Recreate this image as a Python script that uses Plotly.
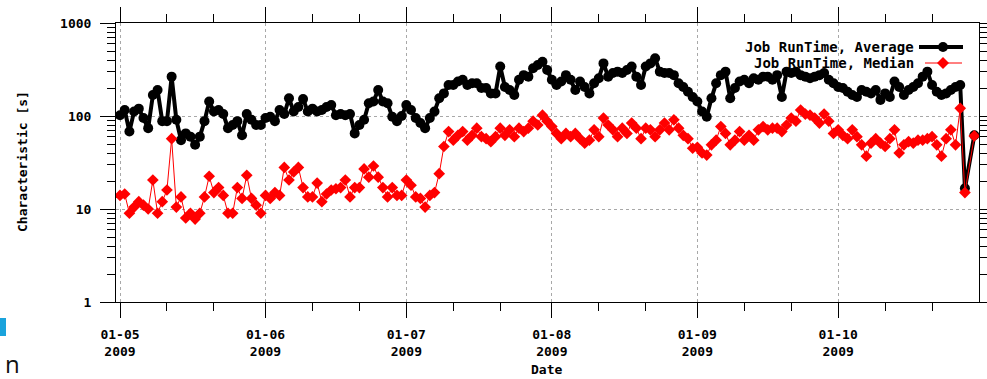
import pandas as pd
import plotly.graph_objects as go

# Daily job run-time characteristics, May-October 2009 (seconds)
dates = pd.date_range("2009-05-01", periods=183, freq="D")

runtime_average = [
    102, 116, 68, 112, 120, 95, 74, 168, 190, 88,
    88, 265, 91, 55, 65, 60, 49, 60, 88, 143,
    112, 116, 105, 74, 80, 88, 62, 105, 91, 80,
    80, 95, 98, 88, 116, 105, 155, 112, 125, 152,
    112, 120, 112, 116, 125, 131, 102, 105, 102, 105,
    65, 80, 91, 137, 143, 190, 143, 137, 98, 88,
    100, 131, 116, 95, 84, 74, 95, 112, 155, 175,
    215, 215, 235, 245, 215, 225, 225, 200, 200, 175,
    175, 340, 205, 190, 168, 245, 275, 265, 326, 353,
    383, 312, 245, 215, 235, 275, 245, 190, 235, 205,
    175, 225, 255, 368, 265, 290, 300, 290, 312, 340,
    265, 215, 340, 368, 417, 300, 290, 290, 275, 225,
    205, 182, 160, 143, 112, 98, 155, 225, 275, 300,
    155, 200, 235, 245, 225, 255, 245, 265, 265, 245,
    275, 160, 300, 290, 300, 275, 265, 255, 265, 275,
    290, 245, 225, 205, 200, 182, 168, 160, 190, 182,
    175, 190, 149, 175, 160, 235, 205, 168, 190, 205,
    225, 265, 300, 215, 182, 168, 175, 190, 205, 215,
    16.7, None, 62,
]

runtime_median = [
    14, 14.5, 9, 10.5, 12, 11, 10, 20.5, 9, 12,
    16, 57, 10.5, 13.5, 8, 9, 7.8, 9, 13.5, 22.5,
    15, 17, 14, 9, 9, 17, 13, 23, 13, 11,
    9, 14, 13, 15, 14, 28, 20.5, 25, 28, 17,
    13.5, 13.5, 19, 12, 14.5, 16, 16.5, 17, 20.5, 13.5,
    17, 17, 27, 22, 29, 22, 17, 13.5, 17, 14,
    14, 20.5, 18, 13.5, 13, 10.5, 14, 15, 24, 47,
    68, 55, 62, 68, 55, 62, 74, 60, 57, 53,
    60, 74, 62, 71, 60, 74, 68, 74, 88, 80,
    102, 88, 77, 65, 57, 65, 60, 65, 57, 51,
    55, 71, 60, 95, 80, 71, 60, 74, 65, 84,
    74, 57, 74, 71, 60, 71, 84, 71, 91, 74,
    62, 57, 45, 46, 40, 38, 49, 55, 77, 65,
    49, 55, 68, 55, 62, 55, 71, 77, 71, 74,
    74, 68, 80, 95, 88, 116, 105, 102, 95, 84,
    105, 88, 65, 71, 62, 57, 71, 60, 49, 37,
    51, 57, 51, 47, 57, 71, 40, 49, 53, 51,
    55, 55, 57, 60, 49, 37, 57, 71, 49, 121,
    15, None, 61,
]

month_ticks = ["2009-05-01", "2009-06-01", "2009-07-01", "2009-08-01",
               "2009-09-01", "2009-10-01"]
month_labels = ["01-05<br>2009", "01-06<br>2009", "01-07<br>2009",
                "01-08<br>2009", "01-09<br>2009", "01-10<br>2009"]
day_ticks = [f"2009-{m:02d}-{d}" for m in range(5, 11) for d in (11, 21)]

y_ticks = [1, 10, 100, 1000]
y_labels = ["1", "10", "100", "1000"]
y_minor = [k * 10 ** e for e in range(3) for k in range(2, 10)]

MONO = "DejaVu Sans Mono"
W, H = 987, 379
L, R, T, B = 116, 8, 23, 77
PW, PH = W - L - R, H - T - B


def px(x):
    return (x - L) / PW


def py(y):
    return (H - B - y) / PH


fig = go.Figure()
fig.add_trace(go.Scatter(
    x=dates, y=runtime_average, mode="lines+markers", connectgaps=True,
    name="Job RunTime, Average",
    line=dict(color="#000000", width=4),
    marker=dict(symbol="circle", size=10, color="#000000"),
))
fig.add_trace(go.Scatter(
    x=dates, y=runtime_median, mode="lines+markers", connectgaps=True,
    name="Job RunTime, Median",
    line=dict(color="#ff0000", width=1),
    marker=dict(symbol="diamond", size=9, color="#ff0000"),
))

axis_common = dict(
    automargin=False,
    showline=True, linecolor="#000000", linewidth=1, mirror="ticks",
    ticks="outside", ticklen=15, tickwidth=1, tickcolor="#000000",
    showgrid=True, gridcolor="#a8a8a8", griddash="dot", gridwidth=1,
    zeroline=False,
    tickfont=dict(family=MONO, size=13, color="#000000", weight="bold"),
)

fig.update_xaxes(
    type="date", range=["2009-04-30 03:30", "2009-10-31 00:00"],
    tickmode="array", tickvals=month_ticks, ticktext=month_labels,
    ticklabelstandoff=5,
    minor=dict(tickmode="array", tickvals=day_ticks, ticks="outside",
               ticklen=8, tickcolor="#000000", showgrid=False),
    **axis_common,
)
fig.update_yaxes(
    type="log", range=[0, 3],
    tickmode="array", tickvals=y_ticks, ticktext=y_labels,
    ticklabelstandoff=6,
    minor=dict(tickmode="array", tickvals=y_minor, ticks="outside",
               ticklen=8, tickcolor="#000000", showgrid=False),
    **axis_common,
)

# key drawn gnuplot-style: label on the left, sample on the right
key_font = dict(family=MONO, size=14, color="#000000", weight="bold")
title_font = dict(family=MONO, size=13, color="#000000", weight="bold")


def note(text, x, y, **kw):
    return dict(text=text, x=px(x), y=py(y), xref="paper", yref="paper",
                showarrow=False, yanchor="middle", **kw)


annotations = [
    note("Job RunTime, Average", 916, 47, xanchor="right", font=key_font),
    note("Job RunTime, Median", 916, 63, xanchor="right", font=key_font),
    note("Characteristic [s]", 22, 162, xanchor="center", textangle=-90,
         font=title_font),
    note("Date", 546, 369, xanchor="center", font=title_font),
    note("n", 3, 363, xanchor="left",
         font=dict(family="Open Sans", size=24, color="#111111")),
]

shapes = [
    dict(type="line", xref="paper", yref="paper", x0=px(919), x1=px(963),
         y0=py(47), y1=py(47), line=dict(color="#000000", width=4)),
    dict(type="circle", xref="paper", yref="paper", xsizemode="pixel",
         ysizemode="pixel", xanchor=px(943), yanchor=py(47),
         x0=-5, x1=5, y0=-5, y1=5, fillcolor="#000000",
         line=dict(width=0)),
    dict(type="line", xref="paper", yref="paper", x0=px(925), x1=px(962),
         y0=py(63), y1=py(63), line=dict(color="#ff0000", width=1)),
    dict(type="path", xref="paper", yref="paper", xsizemode="pixel",
         ysizemode="pixel", xanchor=px(943), yanchor=py(63),
         path="M 0 -6 L 6 0 L 0 6 L -6 0 Z", fillcolor="#ff0000",
         line=dict(width=0)),
    dict(type="rect", xref="paper", yref="paper", x0=px(0), x1=px(6),
         y0=py(336), y1=py(318), fillcolor="#1aa3dc", line=dict(width=0)),
]

fig.update_layout(
    width=W, height=H,
    margin=dict(l=L, r=R, t=T, b=B),
    paper_bgcolor="#ffffff", plot_bgcolor="#ffffff",
    showlegend=False,
    annotations=annotations,
    shapes=shapes,
)

fig.write_html("out.html")
